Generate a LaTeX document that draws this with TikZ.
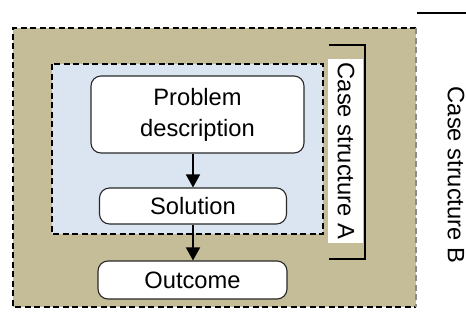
\documentclass[tikz,border=0pt]{standalone}
\usepackage{fontspec}
\setmainfont{Liberation Sans}
\usetikzlibrary{arrows.meta}
\definecolor{tanfill}{RGB}{196,189,151}
\definecolor{bluefill}{RGB}{219,229,241}
\definecolor{boxline}{RGB}{40,40,40}
\tikzset{
  dsh/.style={line width=1.5pt, dash pattern=on 6pt off 3.5pt},
  casebox/.style={draw=boxline, fill=white, rounded corners=10pt, line width=1.1pt, align=center, inner sep=0pt,
     font=\fontsize{23.7}{31}\selectfont},
  arr/.style={line width=1.5pt, -{Triangle[width=14pt,length=13pt]}},
  sidelabel/.style={rotate=-90, inner sep=0pt, font=\fontsize{23.7}{28}\selectfont}
}
\begin{document}
\begin{tikzpicture}[x=1pt,y=-1pt]
\useasboundingbox (0,0) rectangle (466,333);
% outer container B
\fill[tanfill] (13,28) rectangle (416,307);
\draw[dsh] (416,28) -- (13,28) -- (13,307) -- (416,307);
\draw[dsh, draw=black!45] (416,28) -- (416,307);
% inner container A
\draw[dsh, fill=bluefill] (52,64) rectangle (323,234);
% nodes
\node[casebox, minimum width=213pt, minimum height=77pt] (pd) at (197.5,114.5) {Problem\\description};
\node[casebox, minimum width=187pt, minimum height=36pt] (sol) at (193,206) {Solution};
\node[casebox, minimum width=189pt, minimum height=38pt] (out) at (192.5,280) {Outcome};
\draw[arr] (pd.south -| sol.north) -- (sol.north);
\draw[arr] (sol.south) -- (out.north -| sol.south);
% label A with bracket
\fill[white] (328,59) rectangle (363,243);
\node[sidelabel] (labA) at (346,151) {Case structure A};
\draw[line width=1.8pt] (329,45) -- (365,45) -- (365,259) -- (329,259);
% label B
\node[sidelabel] (labB) at (456,175) {Case structure B};
\draw[line width=2pt] (417,13) -- (466,13);
\end{tikzpicture}
\end{document}
